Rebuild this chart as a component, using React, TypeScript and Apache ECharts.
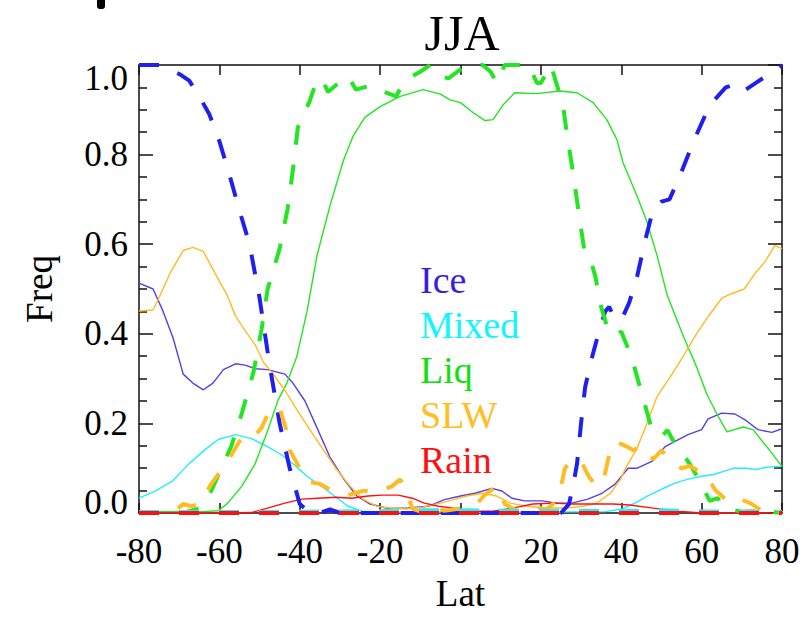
import React, { useEffect, useRef } from "react";
import * as echarts from "echarts";

const xTicks = { min: -80, max: 80, interval: 20 };
const yTicks = { min: 0, max: 1, interval: 0.2 };

const legendNames = ["Ice", "Mixed", "Liq", "SLW", "Rain"];

const iceSolid = [[-80,0.513],[-76.5,0.5],[-74,0.45],[-71.5,0.39],[-69,0.31],[-66.6,0.29],[-64,0.275],[-61.6,0.29],[-59,0.32],[-56,0.333],[-53.6,0.33],[-51,0.322],[-48,0.32],[-43.7,0.31],[-41.7,0.29],[-38.7,0.25],[-35.7,0.19],[-32.5,0.125],[-29,0.075],[-25.8,0.038],[-22.5,0.02],[-18,0.01],[-13,0.011],[-8,0.015],[-4,0.03],[0,0.038],[3.6,0.044],[7.8,0.055],[10.3,0.049],[12.8,0.033],[16,0.027],[20.3,0.027],[24,0.022],[27.7,0.022],[31.7,0.031],[35.2,0.044],[38.4,0.064],[41.7,0.1],[44,0.1],[47.6,0.115],[50.9,0.148],[53.4,0.16],[56.6,0.175],[60,0.186],[61.6,0.21],[65,0.223],[68.3,0.221],[70.8,0.208],[74,0.186],[77.5,0.18],[80,0.188]];
const iceDashed = [[-80,1.0],[-75,1.0],[-72.5,0.99],[-70,0.98],[-67.5,0.965],[-65,0.93],[-62.5,0.89],[-60,0.83],[-57.5,0.755],[-55,0.675],[-52.5,0.6],[-50,0.48],[-47.5,0.33],[-45,0.2],[-42.5,0.1],[-40,0.02],[-37.5,0],[-35,0],[-32.5,0.008],[-30,0],[-20,0],[-10,0],[0,0],[10,0],[20,0],[25,0],[27,0.02],[28,0.06],[29,0.11],[30,0.2],[31,0.28],[32.5,0.34],[34,0.39],[36,0.45],[37,0.46],[38.5,0.43],[40.5,0.44],[42,0.47],[44,0.53],[46,0.61],[48,0.68],[50,0.695],[52,0.7],[54.5,0.75],[58,0.83],[62,0.91],[66,0.95],[69.5,0.96],[71,0.945],[73.5,0.96],[76,0.975],[78,0.985],[80,1.0]];

const mixedSolid = [[-80,0.033],[-76,0.049],[-71.7,0.071],[-67.8,0.108],[-63.5,0.142],[-60.3,0.164],[-56,0.175],[-52,0.166],[-48,0.148],[-44.6,0.13],[-41.4,0.108],[-38.2,0.082],[-34.6,0.06],[-31.4,0.038],[-28,0.015],[-24.5,0.004],[-20,0.002],[0,0.002],[20,0.002],[36,0.003],[40.2,0.009],[43.4,0.022],[46.6,0.038],[50,0.053],[53.2,0.066],[56.4,0.075],[60,0.082],[63,0.086],[65.5,0.093],[68,0.1],[71,0.1],[73.6,0.097],[76,0.102],[80,0.104]];
const mixedDashed = [[-80,0.002],[-60,0.002],[-40,0.003],[-20,0.004],[-10,0.006],[0,0.006],[10,0.005],[20,0.004],[30,0.005],[40,0.004],[50,0.006],[60,0.004],[70,0.003],[80,0.002]];

const liqSolid = [[-80,0.003],[-70,0.003],[-64,0.003],[-60.3,0.005],[-57.9,0.022],[-54.4,0.06],[-51.1,0.11],[-47.9,0.186],[-45.4,0.252],[-43.2,0.29],[-40.7,0.35],[-38.2,0.45],[-35.7,0.575],[-32.5,0.685],[-29.2,0.785],[-26.8,0.84],[-23.8,0.883],[-20,0.907],[-15,0.93],[-9.3,0.945],[-5,0.935],[-2.6,0.922],[0,0.916],[3.1,0.894],[6.1,0.876],[8.1,0.878],[10.5,0.91],[13.5,0.938],[19,0.936],[24.7,0.942],[29,0.938],[33,0.916],[36.4,0.878],[38.9,0.834],[40.4,0.783],[43.9,0.708],[46.4,0.65],[48.9,0.575],[51.4,0.487],[55.3,0.398],[58.8,0.325],[61.3,0.265],[63.8,0.221],[66.3,0.181],[70.3,0.192],[72.8,0.186],[76.2,0.148],[80,0.104]];
const liqDashed = [[-80,0],[-72,0],[-68,0.003],[-65,0.01],[-62,0.05],[-59.5,0.1],[-57,0.15],[-54.5,0.22],[-51.5,0.315],[-49.5,0.41],[-48,0.5],[-45,0.59],[-43,0.68],[-41.5,0.78],[-40.5,0.86],[-37.5,0.92],[-36,0.96],[-34.5,0.97],[-33,0.94],[-31,0.955],[-28,0.975],[-26,0.945],[-22,0.955],[-19,0.94],[-16,0.93],[-14,0.965],[-10,0.985],[-7.5,1.0],[-5,0.975],[-3,0.97],[0,0.99],[2,1.0],[5.5,1.0],[7.5,0.985],[9,0.96],[11,1.0],[14,1.0],[17,1.0],[19,0.96],[20,0.96],[22.5,1.0],[24,0.955],[25.5,0.91],[26.5,0.845],[28,0.76],[29.5,0.665],[31,0.575],[32.5,0.56],[33.5,0.53],[35,0.46],[36.5,0.415],[38.5,0.395],[40,0.405],[42.5,0.35],[45,0.27],[47.5,0.19],[50,0.17],[51.5,0.185],[53,0.16],[55,0.135],[57,0.11],[59,0.08],[62,0.027],[64,0.033],[66,0.01],[70,0.003],[75,0.004],[76.5,0.01],[78,0.002],[80,0]];

const slwSolid = [[-80,0.451],[-76.5,0.453],[-74.8,0.485],[-72,0.54],[-69,0.586],[-66.6,0.593],[-64,0.584],[-60.6,0.527],[-58.1,0.487],[-56,0.44],[-53.6,0.407],[-51,0.374],[-49,0.336],[-46.6,0.31],[-43.7,0.274],[-40.7,0.23],[-37.5,0.186],[-34.2,0.142],[-30.8,0.097],[-27.5,0.06],[-24.3,0.031],[-20.8,0.015],[-17.6,0.011],[-13.4,0.009],[-9.4,0.013],[-5,0.022],[-1.7,0.03],[1.5,0.038],[5.7,0.044],[8.9,0.038],[12.4,0.022],[16.4,0.015],[21.4,0.011],[26.4,0.011],[30.6,0.015],[33.9,0.022],[37.3,0.044],[39.8,0.075],[41.3,0.104],[43.8,0.142],[46.4,0.2],[48.9,0.26],[51.9,0.3],[55.2,0.346],[58.6,0.398],[61.9,0.442],[65.1,0.48],[67.6,0.49],[70.6,0.5],[73.3,0.535],[75.7,0.56],[78.2,0.597],[80,0.59]];
const slwDashed = [[-80,0],[-75,0],[-71,0.005],[-69,0.02],[-67,0.015],[-65,0.02],[-62,0.065],[-60,0.09],[-57,0.13],[-55,0.16],[-52.5,0.18],[-51,0.175],[-49.5,0.19],[-47.5,0.23],[-45,0.235],[-43.5,0.19],[-42.5,0.14],[-40,0.1],[-38,0.07],[-35,0.065],[-32,0.05],[-28,0.04],[-24,0.05],[-21,0.045],[-17,0.06],[-15,0.075],[-13.5,0.05],[-12,0.01],[-9,0],[-7,0.015],[-4,0.005],[0,0.01],[4,0.02],[6,0.04],[9,0.06],[11,0.02],[14,0.005],[17,0.01],[19,0.015],[21,0.005],[23,0.02],[25,0.06],[26,0.1],[28,0.12],[30,0.115],[32,0.08],[34,0.06],[35.5,0.07],[37,0.13],[38.5,0.16],[41,0.15],[43,0.14],[45,0.15],[48,0.12],[50,0.14],[53,0.11],[55,0.1],[57,0.105],[61,0.085],[63.5,0.05],[66,0.03],[68,0.022],[70,0.03],[72.5,0.02],[75,0.005],[77.5,0.012],[80,0]];

const rainSolid = [[-80,0],[-60,0],[-52,0.001],[-48,0.011],[-43.7,0.022],[-39.5,0.031],[-35.5,0.033],[-31,0.035],[-27,0.033],[-23,0.038],[-19.5,0.04],[-15.5,0.04],[-12,0.033],[-9,0.022],[-5.5,0.015],[-1.7,0.011],[3,0.004],[8,0.004],[13,0.011],[18,0.02],[23,0.022],[28,0.02],[33,0.02],[38,0.02],[42,0.018],[48,0.011],[54,0.004],[60,0],[80,0]];
const rainDashed = [[-80,0],[80,0]];

const colors = {
  iceSolid: "#5540e0",
  iceDashed: "#2020ee",
  mixed: "#22eeff",
  liq: "#22e622",
  slw: "#ffbb22",
  rain: "#ff1010",
};
const legendColors = ["#3a1ee0", "#11f5ff", "#11e011", "#ffbe22", "#ff0f0f"];

const FONT = "Liberation Serif";

export default function App() {
  const ref = useRef<HTMLDivElement>(null);
  useEffect(() => {
    if (!ref.current) return;
    const chart = echarts.init(ref.current, undefined, { renderer: "svg" });
    const solid = (name: string, data: number[][], color: string) => ({
      name, type: "line", data, showSymbol: false, symbol: "none", clip: false,
      lineStyle: { color, width: 1.4 }, itemStyle: { color },
      emphasis: { disabled: true },
    });
    const dashed = (name: string, data: number[][], color: string) => ({
      name, type: "line", data, showSymbol: false, symbol: "none", clip: false,
      lineStyle: { color, width: 4, type: [20, 20] }, itemStyle: { color },
      emphasis: { disabled: true },
    });
    const axisLineStyle = { color: "#111", width: 1.5 };
    const labelStyle = { fontFamily: FONT, fontSize: 35, color: "#000" };
    chart.setOption({
      animation: false,
      backgroundColor: "#fff",
      title: {
        text: "JJA", left: 457, top: 3, textAlign: "center",
        textStyle: { fontFamily: FONT, fontSize: 50, fontWeight: "normal", color: "#000" },
      },
      legend: {
        orient: "vertical", left: 410, top: 255, itemWidth: 0, itemHeight: 10, itemGap: 5,
        icon: "none", selectedMode: false,
        textStyle: { fontFamily: FONT, fontSize: 38, lineHeight: 40 },
        data: legendNames.map((n, i) => ({ name: n, icon: "none", textStyle: { color: legendColors[i] } })),
      },
      grid: { left: 139, right: 27, top: 65, bottom: 99 },
      xAxis: [
        {
          type: "value", ...xTicks, position: "bottom",
          name: "Lat", nameLocation: "middle", nameGap: 62,
          nameTextStyle: { fontFamily: FONT, fontSize: 37, color: "#000" },
          axisLine: { show: true, onZero: false, lineStyle: axisLineStyle },
          axisTick: { show: true, inside: true, length: 10, lineStyle: axisLineStyle },
          axisLabel: { ...labelStyle, margin: 21 },
          splitLine: { show: false },
        },
        {
          type: "value", ...xTicks, position: "top",
          axisLine: { show: true, onZero: false, lineStyle: axisLineStyle },
          axisTick: { show: true, inside: true, length: 10, lineStyle: axisLineStyle },
          axisLabel: { show: false },
          splitLine: { show: false },
        },
      ],
      yAxis: [
        {
          type: "value", ...yTicks, position: "left",
          name: "Freq", nameLocation: "middle", nameGap: 81, nameRotate: 90,
          nameTextStyle: { fontFamily: FONT, fontSize: 37, color: "#000" },
          axisLine: { show: true, onZero: false, lineStyle: axisLineStyle },
          axisTick: { show: true, inside: true, length: 14, lineStyle: axisLineStyle },
          minorTick: { show: true, splitNumber: 4, length: 8, lineStyle: axisLineStyle },
          axisLabel: {
            ...labelStyle, margin: 11,
            formatter: (v: number) => (v === 1 ? "{t|1.0}" : v === 0 ? "{b|0.0}" : v.toFixed(1)),
            rich: {
              t: { ...labelStyle, padding: [26, 0, 0, 0] },
              b: { ...labelStyle, padding: [0, 0, 22, 0] },
            },
          },
          splitLine: { show: false },
          minorSplitLine: { show: false },
        },
        {
          type: "value", ...yTicks, position: "right",
          axisLine: { show: true, onZero: false, lineStyle: axisLineStyle },
          axisTick: { show: true, inside: true, length: 14, lineStyle: axisLineStyle },
          minorTick: { show: true, splitNumber: 4, length: 8, lineStyle: axisLineStyle },
          axisLabel: { show: false },
          splitLine: { show: false },
          minorSplitLine: { show: false },
        },
      ],
      graphic: [
        { type: "rect", left: 97, top: 0, shape: { width: 8, height: 9, r: [0, 0, 3, 3] }, style: { fill: "#000" } },
      ],
      series: [
        solid("Ice", iceSolid, colors.iceSolid),
        solid("Mixed", mixedSolid, colors.mixed),
        solid("Liq", liqSolid, colors.liq),
        solid("SLW", slwSolid, colors.slw),
        solid("Rain", rainSolid, colors.rain),
        dashed("Ice", iceDashed, colors.iceDashed),
        dashed("Liq", liqDashed, colors.liq),
        dashed("SLW", slwDashed, colors.slw),
        dashed("Mixed", mixedDashed, colors.mixed),
        dashed("Rain", rainDashed, colors.rain),
      ],
    });
    return () => chart.dispose();
  }, []);
  return <div ref={ref} style={{ position: "fixed", left: 0, top: 0, width: 809, height: 617 }} />;
}
